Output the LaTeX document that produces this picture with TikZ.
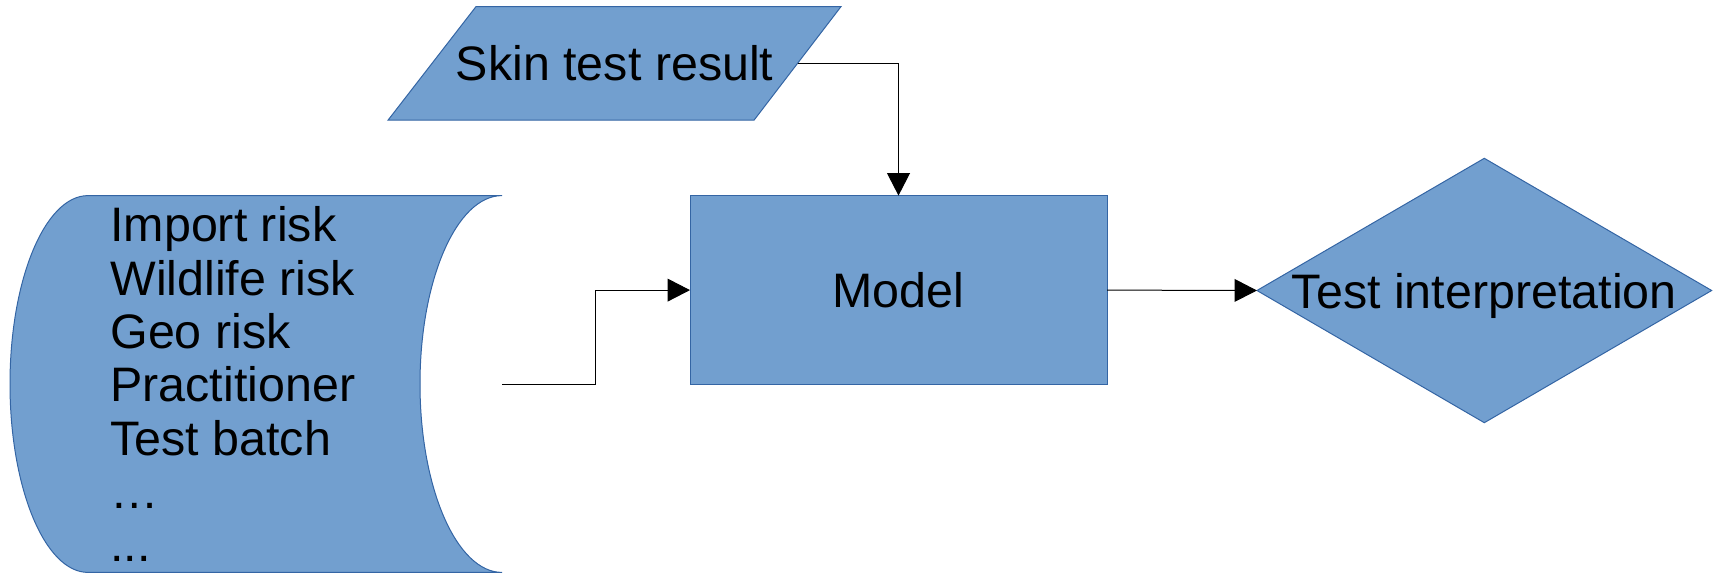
\documentclass[tikz,border=0pt]{standalone}
\usepackage{fontspec}
\setmainfont{Liberation Sans}
\usetikzlibrary{arrows.meta,shapes.geometric}
\definecolor{shapefill}{HTML}{729FCF}
\definecolor{shapeline}{HTML}{3465A4}

\begin{document}
\begin{tikzpicture}[x=0.5pt,y=0.5pt,yscale=-1,xscale=1,
    shapebox/.style={draw=shapeline,fill=shapefill,line width=0.5pt},
    flow/.style={draw=black,line width=0.5pt,-{Triangle[length=11.2pt,width=11.4pt]}},
    txt/.style={font=\fontsize{24.2pt}{26.67pt}\selectfont,inner sep=0pt}]
            \useasboundingbox (0,0) rectangle (1713,573);

            %Shape: Stored data
            \draw  [shapebox] (88,195.6) -- (502,195.6) arc[start angle=270,end angle=90,x radius=82,y radius=188.4] -- (88,572.4) arc[start angle=90,end angle=270,x radius=78,y radius=188.4] -- cycle ;
            \coordinate (dataout) at (502,384) ;
            %Shape: Parallelogram
            \draw  [shapebox] (476,6.6) -- (841,6.6) -- (754,120.2) -- (388,120.2) -- cycle ;
            \coordinate (skinout) at (797.5,63.4) ;
            %Shape: Rectangle
            \draw (898.5,290.1) node (model) [shapebox,txt,minimum width=208.5pt,minimum height=94.5pt,outer sep=0pt] {Model};
            %Shape: Diamond
            \draw (1484.3,290.5) node (interp) [shapebox,txt,diamond,aspect=1.72,minimum width=227.35pt,minimum height=132.2pt,outer sep=0pt,text depth=0pt] {Test interpretation};

            %Connectors
            \draw  [flow]  (dataout) -- ++(93.5,0) |- (model.west) ;
            \draw  [flow]  (skinout) -| (model.north) ;
            \draw  [flow]  (model.east) -- (interp.west) ;

            % Text Node
            \draw (614.7,63.4) node (skin) [txt] {Skin test result};
            % Text Node
            \draw (110,241.7) node (imprisk) [anchor=base west][txt] {Import risk};
            % Text Node
            \draw (110,295) node (wildrisk) [anchor=base west][txt] {Wildlife risk};
            % Text Node
            \draw (110,348.3) node (georisk) [anchor=base west][txt] {Geo risk};
            % Text Node
            \draw (110,401.7) node (practitioner) [anchor=base west][txt] {Practitioner};
            % Text Node
            \draw (110,455) node (batch) [anchor=base west][txt] {Test batch};
            % Text Node
            \draw (110,508.3) node (more) [anchor=base west][txt] {…};
            % Text Node
            \draw (110,561.7) node (etc) [anchor=base west][txt] {...};
\end{tikzpicture}
\end{document}
